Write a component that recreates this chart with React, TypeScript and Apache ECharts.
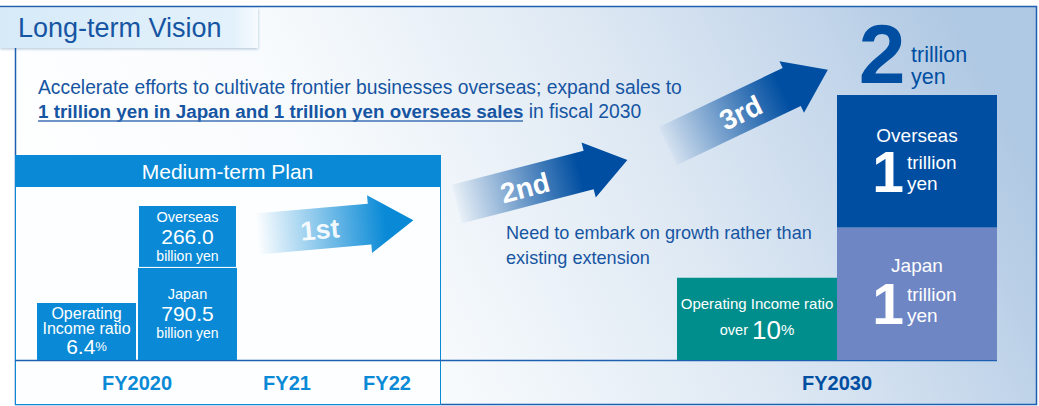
import React, { useEffect, useRef } from 'react';
import * as echarts from 'echarts';

// ---------- data ----------
const xSlots = ['', '', 'FY2020', '', '', 'FY21', '', 'FY22', '', '', '', '', '', '', '', '', 'FY2030', '', '', ''];
const regions = ['Japan', 'Overseas'];
const sales2020 = [790.5, 266.0]; // billion yen (Japan, Overseas)
const sales2030 = [1, 1]; // trillion yen (Japan, Overseas)
const total2030 = [2]; // trillion yen
const opRatio = [6.4, 10]; // % (FY2020 actual, FY2030 "over")
// drawn heights in picture units (the infographic is not to scale)
const salesHeight2020 = [69.5, 47.5];
const salesHeight2030 = [100, 100];
const opRatioHeight = [43, 62];
const stages = ['1st', '2nd', '3rd'];

// ---------- style ----------
const FONT = '"Liberation Sans", Arial, Helvetica, sans-serif';
const TXT = '#1655a2';
const DARK = '#004ea1';
const MID = '#0a8ad6';
const LAV = '#6e86c4';
const TEAL = '#008e8c';
const LINE = '#1d5fb0';

const at = (slot: string, v: number) => xSlots.map((s) => (s === slot ? v : '-'));

function arrow(cx: number, cy: number, L: number, Lb: number, h: number, H: number, deg: number, c0: string, c1: string, stop: number) {
  return {
    type: 'polygon',
    x: cx,
    y: cy,
    rotation: (deg * Math.PI) / 180,
    silent: true,
    shape: { points: [[0, -h], [Lb, -h], [Lb, -H], [L, 0], [Lb, H], [Lb, h], [0, h]] },
    style: {
      fill: new echarts.graphic.LinearGradient(0, 0, 1, 0, [
        { offset: 0, color: c0 },
        { offset: stop, color: c1 },
        { offset: 1, color: c1 },
      ]),
    },
  };
}

function txt(x: number, y: number, text: string, size: number, fill: string, extra: any = {}) {
  return {
    type: 'text',
    x,
    y,
    silent: true,
    z: extra.z ?? 0,
    rotation: extra.rotation ?? 0,
    style: {
      text,
      fill,
      fontSize: size,
      fontFamily: FONT,
      fontWeight: extra.weight ?? 'normal',
      align: extra.align ?? 'left',
      verticalAlign: 'middle',
      textAlign: extra.align ?? 'left',
      textVerticalAlign: 'middle',
      ...(extra.style || {}),
    },
  };
}

function oneTrillion(cx: number, cy: number) {
  return [
    txt(cx, cy + 10, String(sales2030[0]), 57, '#fff', { weight: 'bold', align: 'center', z: 100 }),
    txt(cx + 19, cy, 'trillion', 19, '#fff', { z: 100 }),
    txt(cx + 19, cy + 21, 'yen', 19, '#fff', { z: 100 }),
  ];
}

function buildOption() {
  const rich2020 = {
    nm: { fontSize: 14.5, lineHeight: 18, color: '#fff', fontFamily: FONT },
    num: { fontSize: 21, lineHeight: 21, color: '#fff', fontFamily: FONT },
    unit: { fontSize: 14, lineHeight: 18, color: '#fff', fontFamily: FONT },
  };
  const baseLabel = { show: true, color: '#fff', textBorderWidth: 0, fontFamily: FONT };

  const graphic: any[] = [
    // background gradient panel
    {
      type: 'rect',
      silent: true,
      shape: { x: 15, y: 7, width: 1022, height: 398 },
      style: {
        fill: new echarts.graphic.LinearGradient(0, 0.6, 1, 0.4, [
          { offset: 0, color: '#ffffff' },
          { offset: 0.33, color: '#f8fbfd' },
          { offset: 0.62, color: '#e0eaf4' },
          { offset: 0.8, color: '#cbdbed' },
          { offset: 1, color: '#afc8e3' },
        ]),
      },
    },
    // title tab
    {
      type: 'rect',
      silent: true,
      shape: { x: 0, y: 8, width: 258, height: 40 },
      style: {
        fill: new echarts.graphic.LinearGradient(0, 0, 1, 0, [
          { offset: 0, color: '#d6eaf8' },
          { offset: 0.9, color: '#e3f1fb' },
          { offset: 1, color: '#f6fbfe' },
        ]),
        shadowBlur: 3,
        shadowOffsetY: 1,
        shadowColor: 'rgba(30,80,140,0.35)',
      },
    },
    txt(18, 28, 'Long-term Vision', 27, TXT),
    // outer frame
    {
      type: 'polyline',
      silent: true,
      shape: { points: [[0, 6.5], [1036.5, 6.5], [1036.5, 404.5], [15.5, 404.5], [15.5, 48]] },
      style: { stroke: LINE, lineWidth: 1.5, fill: 'none' },
    },
    // medium-term plan box
    {
      type: 'rect',
      silent: true,
      shape: { x: 15.5, y: 155.5, width: 425, height: 249 },
      style: { fill: '#fdfeff', stroke: MID, lineWidth: 1 },
    },
    { type: 'rect', silent: true, shape: { x: 15, y: 155, width: 426, height: 32 }, style: { fill: MID } },
    txt(227.5, 171, 'Medium-term Plan', 21, '#fff', { align: 'center' }),
    // baseline
    { type: 'line', silent: true, shape: { x1: 15, y1: 360.5, x2: 997, y2: 360.5 }, style: { stroke: LINE, lineWidth: 1.5 } },
    // stage arrows
    arrow(257, 234, 157, 113, 20.5, 29, 5, 'rgba(10,138,214,0)', MID, 0.82),
    arrow(457, 204, 176, 136, 20, 28.5, 14.5, 'rgba(0,78,161,0.03)', DARK, 0.72),
    arrow(668, 146, 177, 137, 21, 28.5, 25.5, 'rgba(0,78,161,0.03)', DARK, 0.72),
    txt(320, 230, stages[0], 27, 'rgba(255,255,255,0.92)', { weight: 'bold', align: 'center', rotation: (5 * Math.PI) / 180 }),
    txt(525, 188, stages[1], 28, '#fff', { weight: 'bold', align: 'center', rotation: (15 * Math.PI) / 180 }),
    txt(741, 113, stages[2], 28, '#fff', { weight: 'bold', align: 'center', rotation: (26 * Math.PI) / 180 }),
    // headline text
    txt(38, 87, 'Accelerate efforts to cultivate frontier businesses overseas; expand sales to', 19.3, TXT),
    {
      type: 'text',
      silent: true,
      x: 38,
      y: 111,
      style: {
        text: `{u|${sales2030[0]} trillion yen in ${regions[0]} and ${sales2030[1]} trillion yen overseas sales}{n| in fiscal 2030}`,
        fill: TXT,
        fontFamily: FONT,
        verticalAlign: 'middle',
        textVerticalAlign: 'middle',
        rich: {
          u: { fontSize: 18.8, fontWeight: 'bold', fill: TXT, fontFamily: FONT },
          n: { fontSize: 19.3, fill: TXT, fontFamily: FONT },
        },
      },
    },
    { type: 'line', silent: true, shape: { x1: 38, y1: 121, x2: 523, y2: 121 }, style: { stroke: '#3f72b6', lineWidth: 1.5 } },
    txt(506, 233, 'Need to embark on growth rather than', 18.1, TXT),
    txt(506, 258, 'existing extension', 18.1, TXT),
    // 2 trillion yen
    txt(882, 54, String(total2030[0]), 84, DARK, { weight: 'bold', align: 'center' }),
    txt(911, 55, 'trillion', 21.5, DARK),
    txt(911, 77, 'yen', 21.5, DARK),
    ...oneTrillion(888, 162),
    ...oneTrillion(888, 294),
  ];

  return {
    animation: false,
    textStyle: { fontFamily: FONT },
    grid: { left: 12, right: 27, top: 95, bottom: 46, containLabel: false },
    xAxis: [
      {
        type: 'category',
        gridIndex: 0,
        position: 'bottom',
        data: xSlots,
        axisLine: { show: false },
        axisTick: { show: false },
        axisLabel: {
          interval: 0,
          margin: 13,
          color: MID,
          fontSize: 20,
          fontWeight: 'bold',
          fontFamily: FONT,
          formatter: (v: string) => (v === 'FY2030' ? '' : v),
        },
      },
      {
        type: 'category',
        gridIndex: 0,
        position: 'bottom',
        data: xSlots,
        axisLine: { show: false },
        axisTick: { show: false },
        axisLabel: {
          interval: 0,
          margin: 13,
          color: DARK,
          fontSize: 20,
          fontWeight: 'bold',
          fontFamily: FONT,
          formatter: (v: string) => (v === 'FY2030' ? v : ''),
        },
      },
    ],
    yAxis: { type: 'value', min: 0, max: 200, show: false },
    graphic,
    series: [
      {
        name: 'Operating Income ratio FY2020',
        type: 'bar',
        xAxisIndex: 0,
        barWidth: 99,
        barGap: '2%',
        data: at('FY2020', opRatioHeight[0]),
        itemStyle: { color: MID },
        label: {
          ...baseLabel,
          position: 'inside',
          formatter: () => `{nm|Operating}\n{nm|Income ratio}\n{num|${opRatio[0].toFixed(1)}}{pc|%}`,
          rich: {
            nm: { fontSize: 16, lineHeight: 15, color: '#fff', fontFamily: FONT },
            num: { fontSize: 21, lineHeight: 22, color: '#fff', fontFamily: FONT },
            pc: { fontSize: 13, lineHeight: 22, color: '#fff', fontFamily: FONT },
          },
        },
      },
      {
        name: `${regions[0]} FY2020`,
        type: 'bar',
        xAxisIndex: 0,
        stack: 'fy2020',
        barWidth: 99,
        barGap: '2%',
        data: at('FY2020', salesHeight2020[0]),
        itemStyle: { color: MID },
        label: {
          ...baseLabel,
          position: 'inside',
          formatter: () => `{nm|${regions[0]}}\n{num|${sales2020[0].toFixed(1)}}\n{unit|billion yen}`,
          rich: rich2020,
        },
      },
      {
        name: `${regions[1]} FY2020`,
        type: 'bar',
        xAxisIndex: 0,
        stack: 'fy2020',
        barWidth: 99,
        barGap: '2%',
        data: at('FY2020', salesHeight2020[1]),
        itemStyle: { color: MID, borderColor: '#fff', borderWidth: 1 },
        label: {
          ...baseLabel,
          position: 'inside',
          formatter: () => `{nm|${regions[1]}}\n{num|${sales2020[1].toFixed(1)}}\n{unit|billion yen}`,
          rich: rich2020,
        },
      },
      {
        name: 'Operating Income ratio FY2030',
        type: 'bar',
        xAxisIndex: 1,
        barWidth: 160,
        barGap: '0%',
        data: at('FY2030', opRatioHeight[1]),
        itemStyle: { color: TEAL },
        label: {
          ...baseLabel,
          position: 'inside',
          formatter: () => `{t|Operating Income ratio}\n{o|over }{big|${opRatio[1]}}{pc|%}`,
          rich: {
            t: { fontSize: 15, lineHeight: 22, color: '#fff', fontFamily: FONT },
            o: { fontSize: 14.5, lineHeight: 30, color: '#fff', fontFamily: FONT },
            big: { fontSize: 26, lineHeight: 30, color: '#fff', fontFamily: FONT },
            pc: { fontSize: 15, lineHeight: 30, color: '#fff', fontFamily: FONT },
          },
        },
      },
      {
        name: `${regions[0]} FY2030`,
        type: 'bar',
        xAxisIndex: 1,
        stack: 'fy2030',
        barWidth: 160,
        barGap: '0%',
        data: at('FY2030', salesHeight2030[0]),
        itemStyle: { color: LAV },
        label: { ...baseLabel, position: 'insideTop', distance: 27, fontSize: 19, lineHeight: 22, formatter: regions[0] },
      },
      {
        name: `${regions[1]} FY2030`,
        type: 'bar',
        xAxisIndex: 1,
        stack: 'fy2030',
        barWidth: 160,
        barGap: '0%',
        data: at('FY2030', salesHeight2030[1]),
        itemStyle: { color: DARK },
        label: { ...baseLabel, position: 'insideTop', distance: 29, fontSize: 19, lineHeight: 22, formatter: regions[1] },
      },
    ],
  };
}

export default function App() {
  const ref = useRef<HTMLDivElement>(null);
  useEffect(() => {
    document.body.style.margin = '0';
    const chart = echarts.init(ref.current as HTMLDivElement, null, { renderer: 'svg' });
    chart.setOption(buildOption() as any);
    return () => chart.dispose();
  }, []);
  return <div ref={ref} style={{ position: 'absolute', left: 0, top: 0, width: 1039, height: 406 }} />;
}
